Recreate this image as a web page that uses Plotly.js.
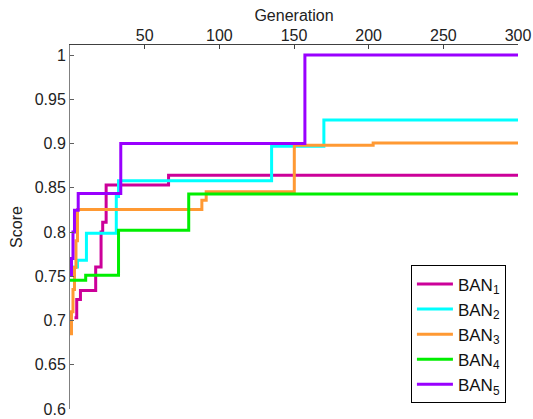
<!DOCTYPE html>
<html>
<head>
<meta charset="utf-8">
<script src="https://cdn.plot.ly/plotly-3.0.1.min.js"></script>
<style>html,body{margin:0;padding:0;background:#fff;}#chart{width:533px;height:419px;}</style>
</head>
<body>
<div id="chart"></div>
<script>
// Generation at which each score level begins (step-after), and the score
const ban1Gen = [3, 4.5, 7, 17.2, 20.8, 21.9, 24.2, 66, 300];
const ban1Score = [0.703, 0.7236, 0.734, 0.7605, 0.80, 0.811, 0.853, 0.864, 0.864];

const ban2Gen = [1.5, 5, 11, 31, 32.5, 135, 170, 300];
const ban2Score = [0.7605, 0.768, 0.7986, 0.84, 0.858, 0.897, 0.9265, 0.9265];

const ban3Gen = [0, 1, 2, 3, 4, 5, 88.3, 91.2, 150.2, 203, 300];
const ban3Score = [0.685, 0.71, 0.735, 0.76, 0.79, 0.8255, 0.836, 0.8454, 0.898, 0.9005, 0.9005];

const ban4Gen = [0, 10.5, 32.5, 79.5, 300];
const ban4Score = [0.7455, 0.751, 0.802, 0.843, 0.843];

const ban5Gen = [0, 1, 2, 3, 5.5, 34, 157.3, 300];
const ban5Score = [0.752, 0.77, 0.80, 0.8247, 0.8435, 0.9, 1.0, 1.0];

const seriesNames = ['BAN<sub>1</sub>', 'BAN<sub>2</sub>', 'BAN<sub>3</sub>', 'BAN<sub>4</sub>', 'BAN<sub>5</sub>'];
const seriesColors = ['#cc0099', '#00ffff', '#ff9933', '#00ee00', '#9900ff'];

const xTicks = [50, 100, 150, 200, 250, 300];
const yTicks = [0.6, 0.65, 0.7, 0.75, 0.8, 0.85, 0.9, 0.95, 1];
const yTickText = ['0.6', '0.65', '0.7', '0.75', '0.8', '0.85', '0.9', '0.95', '1'];

const gens = [ban1Gen, ban2Gen, ban3Gen, ban4Gen, ban5Gen];
const scores = [ban1Score, ban2Score, ban3Score, ban4Score, ban5Score];

const traces = gens.map((g, i) => ({
  x: g, y: scores[i], type: 'scatter', mode: 'lines', name: seriesNames[i],
  line: {color: seriesColors[i], width: 3, shape: 'hv'}
}));

const font = {family: 'Liberation Sans, Arial, sans-serif', size: 16, color: '#222'};

const layout = {
  width: 533, height: 419,
  margin: {l: 69.5, r: 14.5, t: 45, b: 10.4, pad: 0},
  paper_bgcolor: '#fff', plot_bgcolor: '#fff',
  font: font,
  showlegend: true,
  legend: {
    x: 0.761, y: 0.0154, xanchor: 'left', yanchor: 'bottom',
    bordercolor: '#000', borderwidth: 1, bgcolor: '#fff',
    font: {family: 'Liberation Sans, Arial, sans-serif', size: 17, color: '#111'},
    tracegroupgap: 0, itemwidth: 36
  },
  xaxis: {
    side: 'top', range: [0, 300], tickvals: xTicks, ticktext: xTicks.map(String),
    showgrid: false, zeroline: false, showline: true, linecolor: '#404040', linewidth: 1,
    ticks: 'inside', ticklen: 4, tickcolor: '#404040',
    tickfont: font, ticklabelstandoff: -3,
    title: {text: 'Generation', font: font, standoff: 0}
  },
  yaxis: {
    range: [0.6, 1.0113], tickvals: yTicks, ticktext: yTickText,
    showgrid: false, zeroline: false, showline: true, linecolor: '#808080', linewidth: 1,
    ticks: 'inside', ticklen: 4, tickcolor: '#606060',
    tickfont: font,
    title: {text: 'Score', font: font, standoff: 8}
  }
};

Plotly.newPlot('chart', traces, layout, {displayModeBar: false, staticPlot: true});
</script>
</body>
</html>
